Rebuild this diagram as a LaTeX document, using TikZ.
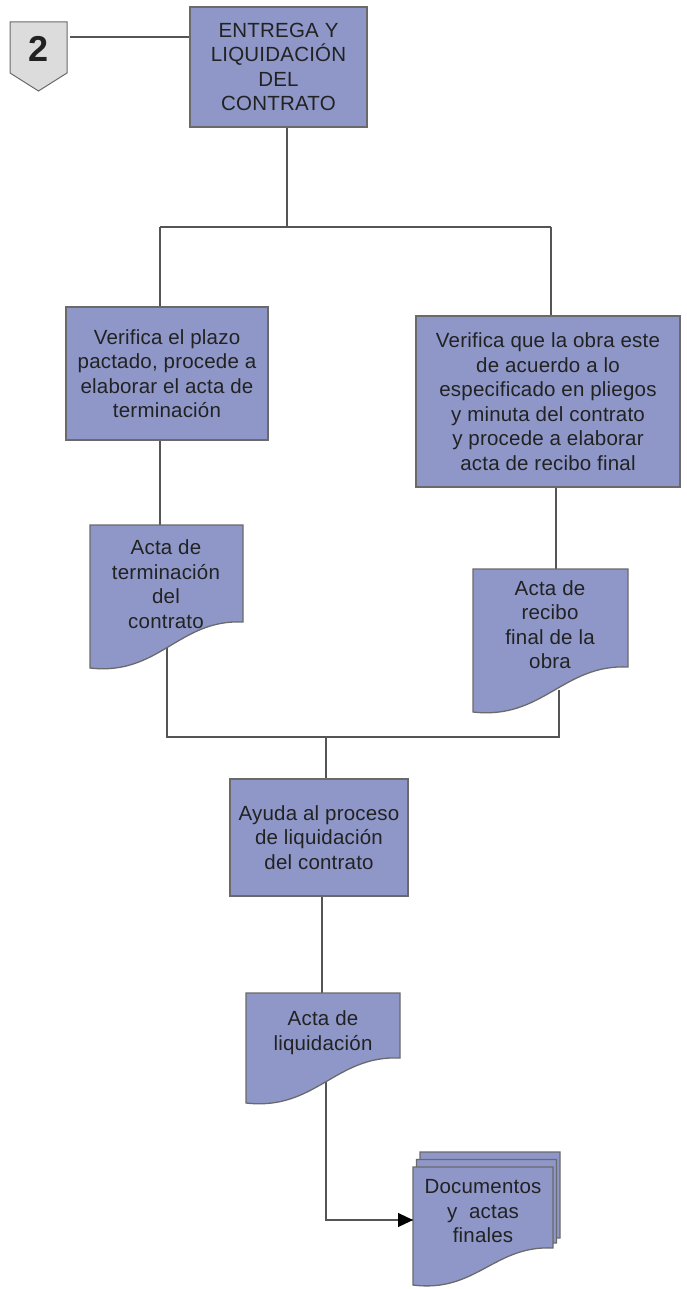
\documentclass[tikz,border=0pt]{standalone}
\usepackage{fontspec}
\setmainfont{Liberation Sans}
\newfontfamily\lblfont[LetterSpace=1]{Liberation Sans}
\usetikzlibrary{arrows.meta}
\pgfdeclarelayer{bg}
\pgfsetlayers{bg,main}
\definecolor{boxfill}{HTML}{8E97C8}
\definecolor{boxline}{HTML}{6A6A6A}
\definecolor{conn}{HTML}{555555}
\definecolor{txt}{HTML}{222222}
\definecolor{badgefill}{HTML}{DCDCDC}
\tikzset{
  lbl/.style={font={\lblfont\fontsize{20.5}{24.5}\selectfont}, text=txt, align=center, inner sep=0pt},
  procbox/.style={lbl, draw=boxline, fill=boxfill, line width=1.3pt, rectangle},
  docpath/.style={draw=boxline, fill=boxfill, line width=1.3pt},
  connector/.style={draw=conn, line width=1.2pt},
}
\newcommand{\docshape}[5]{% x1, ytop, x2, yR, yL
  \path[docpath] (#1,#2) -- (#3,#2) -- (#3,#4)
    .. controls ({#3-0.42*(#3-#1)},{#4-3}) and ({#1+0.45*(#3-#1)},{#5+8}) .. (#1,#5) -- cycle;}
\begin{document}
\begin{tikzpicture}[x=1pt,y=-1pt]
\useasboundingbox (0,0) rectangle (687,1289);

% badge
\path[draw=boxline, fill=badgefill, line width=1pt] (10,22) -- (67,22) -- (67,73) -- (38.5,91) -- (10,73) -- cycle;
\node[font={\fontsize{36}{36}\bfseries}, text=txt, inner sep=0pt] (badge) at (39,49) {2};
\coordinate (bdg) at (70,37);

% process boxes
\node[procbox, minimum width=177pt, minimum height=120pt] (box1) at (278.5,67)
  {ENTREGA Y\\LIQUIDACIÓN\\DEL\\CONTRATO};
\node[procbox, minimum width=202pt, minimum height=133pt] (box2) at (167,373.5)
  {Verifica el plazo\\pactado, procede a\\elaborar el acta de\\terminación};
\node[procbox, minimum width=264pt, minimum height=171pt] (box3) at (548,401.5)
  {Verifica que la obra este\\de acuerdo a lo\\especificado en pliegos\\y minuta del contrato\\y procede a elaborar\\acta de recibo final};
\node[procbox, minimum width=178pt, minimum height=117pt] (box4) at (319,837.5)
  {Ayuda al proceso\\de liquidación\\del contrato};

% documents
\docshape{90}{525}{243}{622}{668}
\node[lbl] (doc1) at (166,584) {Acta de\\terminación\\del\\contrato};
\docshape{473}{569}{628}{667}{712}
\node[lbl] (doc2) at (550,624.5) {Acta de\\recibo\\final de la\\obra};
\docshape{246}{993}{400}{1058}{1103}
\node[lbl] (doc3) at (323,1032.5) {Acta de\\liquidación};

% multi document
\docshape{420}{1152}{560}{1238}{1275}
\docshape{416.5}{1159.5}{556.5}{1243}{1280}
\docshape{413}{1167}{553}{1248}{1285}
\node[lbl] (docs) at (483,1211.5) {Documentos\\y \ actas\\finales};
\coordinate (docsin) at (413,1220);

% junction coordinates
\coordinate (j1) at (287,227);
\coordinate (jl) at (160,227);
\coordinate (jr) at (551,227);
\coordinate (d1in) at (160,525);
\coordinate (d2in) at (556,569);
\coordinate (d1out) at (167,640);
\coordinate (d2out) at (559,690);
\coordinate (m1) at (167,737);
\coordinate (m2) at (559,737);
\coordinate (m3) at (326,737);
\coordinate (d3in) at (322,993);
\coordinate (d3out) at (326,1075);
\coordinate (m4) at (326,1220);

\begin{pgfonlayer}{bg}
  \draw[connector] (bdg) -- (box1.west |- bdg);
  \draw[connector] (box1.south -| j1) -- (j1);
  \draw[connector] (jl) -- (jr);
  \draw[connector] (jl) -- (box2.north -| jl);
  \draw[connector] (jr) -- (box3.north -| jr);
  \draw[connector] (box2.south -| jl) -- (d1in);
  \draw[connector] (box3.south -| d2in) -- (d2in);
  \draw[connector] (d1out) -- (m1) -- (m2) -- (d2out);
  \draw[connector] (m3) -- (box4.north -| m3);
  \draw[connector] (box4.south -| d3in) -- (d3in);
  \draw[connector] (d3out) -- (m4) -- (docsin);
\end{pgfonlayer}
\draw[connector, -{Triangle[length=15pt,width=14pt,color=black]}] ([xshift=-16pt]docsin) -- (docsin);
\end{tikzpicture}
\end{document}
